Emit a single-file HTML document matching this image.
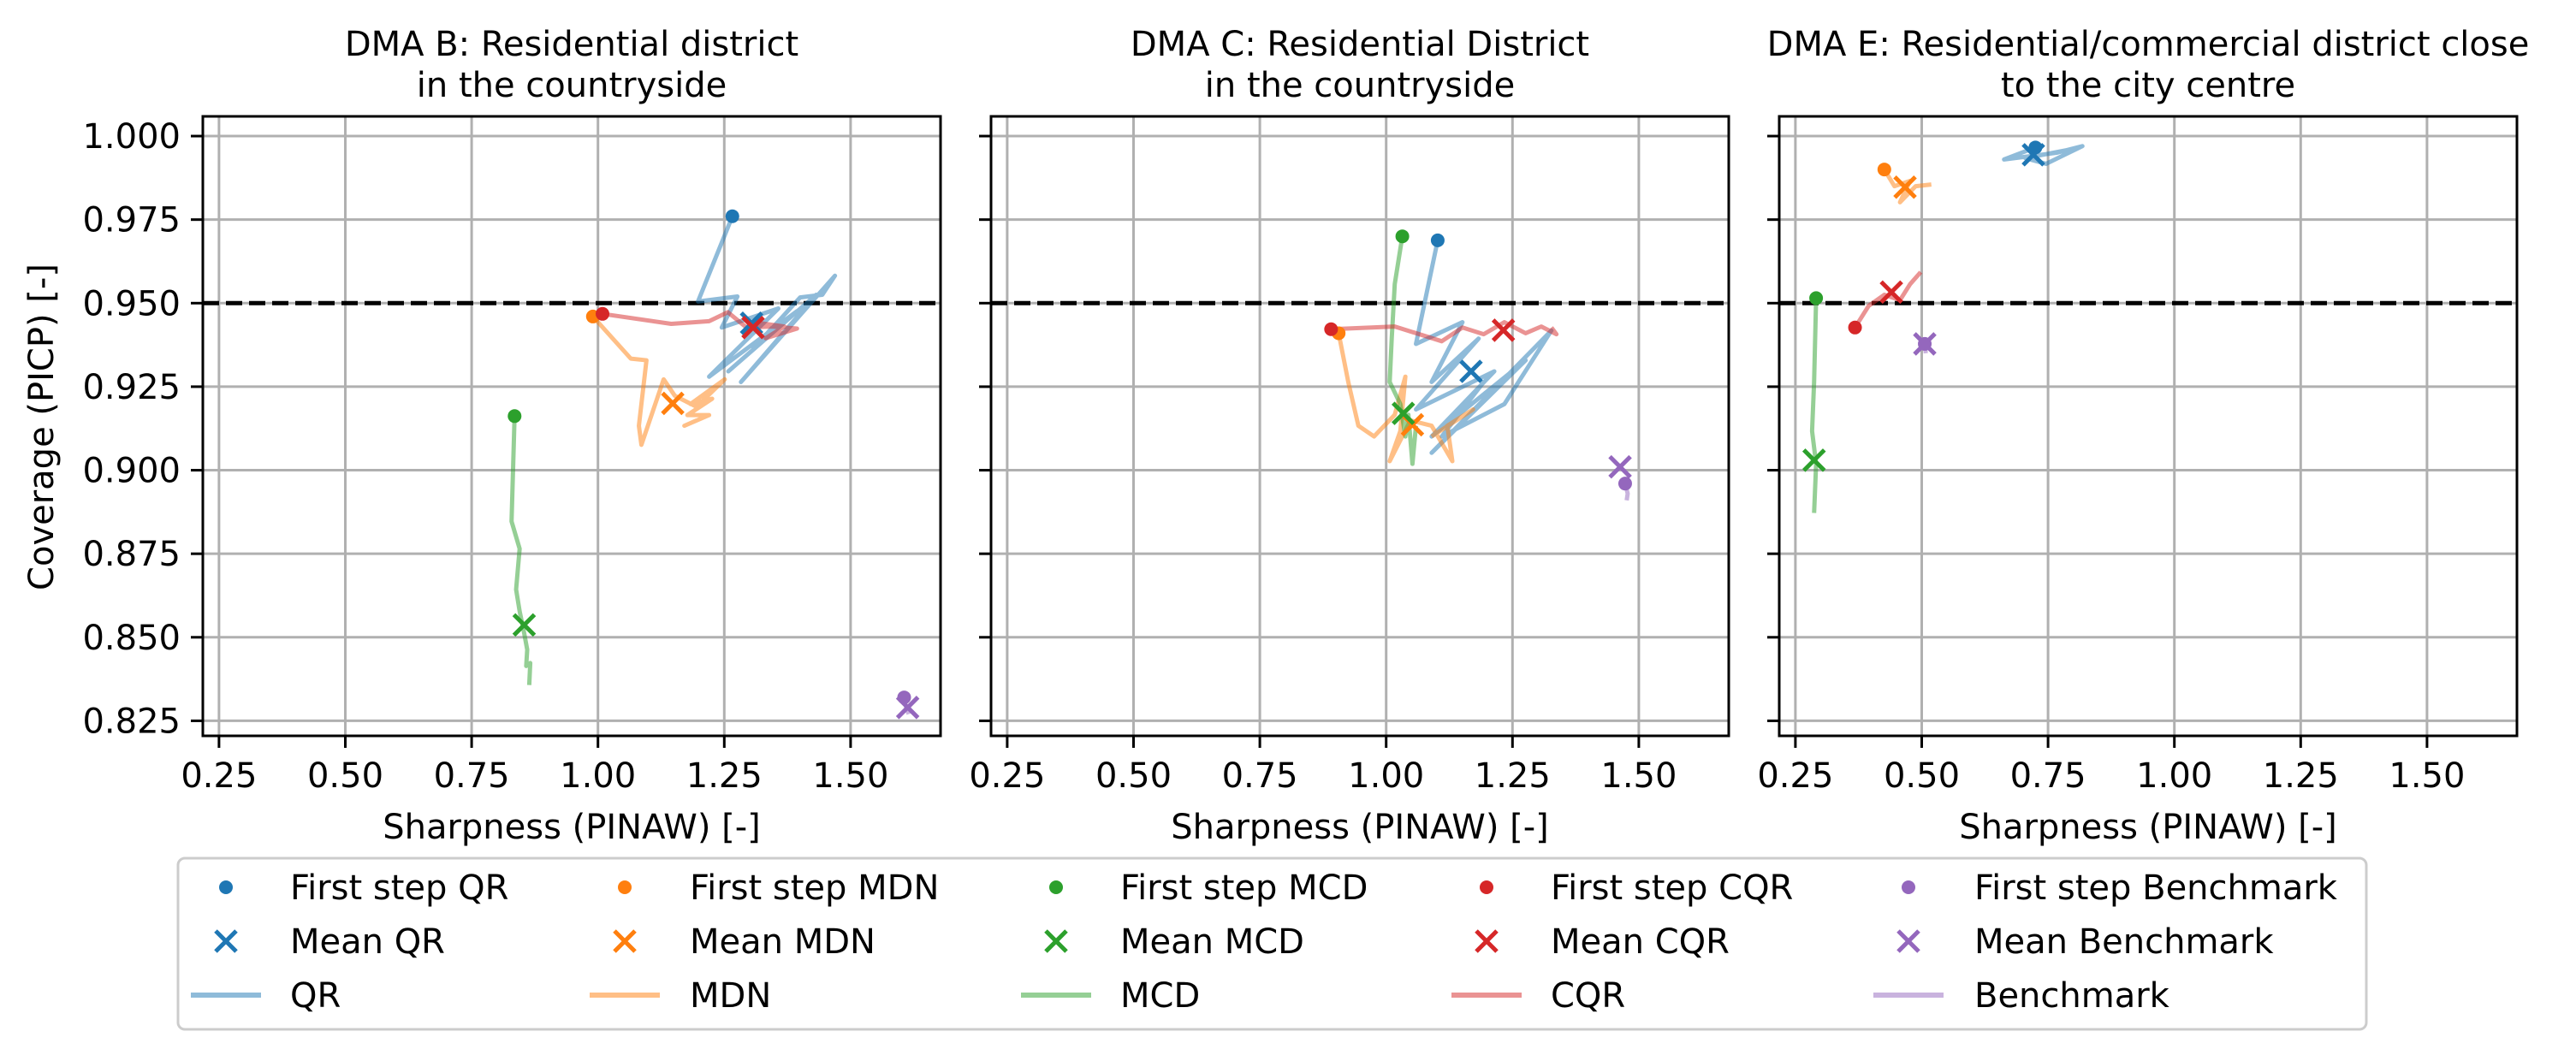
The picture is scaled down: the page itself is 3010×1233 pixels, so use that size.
<!DOCTYPE html>
<html><head><meta charset="utf-8"><style>
html,body{margin:0;padding:0;background:#fff}
svg{display:block}
text{font-family:"DejaVu Sans","Liberation Sans",sans-serif;fill:#000}
</style></head><body>
<svg id="fig" width="3010" height="1233" viewBox="0 0 3010 1233" xmlns="http://www.w3.org/2000/svg"></svg>
<script>
const panelTitles = [["DMA B: Residential district","in the countryside"],["DMA C: Residential District","in the countryside"],["DMA E: Residential/commercial district close","to the city centre"]];
const xTicks = [0.25,0.5,0.75,1.0,1.25,1.5];
const xTickLabels = ["0.25","0.50","0.75","1.00","1.25","1.50"];
const yTicks = [0.825,0.85,0.875,0.9,0.925,0.95,0.975,1.0];
const yTickLabels = ["0.825","0.850","0.875","0.900","0.925","0.950","0.975","1.000"];
const methods = ["QR","MDN","MCD","CQR","Benchmark"];
const target = 0.95;
// per panel, per method: path [x,y] pairs (x = PINAW, y = PICP)
const pathsB = [
 [[1.266,0.976],[1.198,0.9505],[1.276,0.952],[1.245,0.9427],[1.357,0.9484],[1.22,0.928],[1.394,0.9476],[1.258,0.9296],[1.432,0.9525],[1.283,0.9264],[1.469,0.9582],[1.444,0.9525],[1.4,0.9517],[1.307,0.9362],[1.345,0.9427]],
 [[0.99,0.946],[1.065,0.9334],[1.096,0.9329],[1.081,0.9133],[1.086,0.9076],[1.13,0.9272],[1.152,0.9223],[1.195,0.919],[1.251,0.9272],[1.183,0.9198],[1.226,0.9214],[1.177,0.9165],[1.22,0.9165],[1.171,0.9133],[1.195,0.9149]],
 [[0.835,0.9162],[0.829,0.8847],[0.845,0.8765],[0.838,0.8643],[0.845,0.8578],[0.854,0.8512],[0.86,0.8463],[0.858,0.8414],[0.866,0.8423],[0.864,0.8357]],
 [[1.009,0.9468],[1.145,0.9438],[1.22,0.9446],[1.257,0.9473],[1.294,0.9427],[1.344,0.943],[1.394,0.9424],[1.332,0.9395],[1.369,0.943],[1.307,0.9443]],
 [[1.606,0.832],[1.61,0.829],[1.615,0.827]]
];
const pathsC = [
 [[1.102,0.9688],[1.059,0.9378],[1.151,0.9443],[1.09,0.9264],[1.183,0.9394],[1.059,0.9182],[1.214,0.9296],[1.09,0.9101],[1.276,0.9329],[1.09,0.9052],[1.327,0.9418],[1.234,0.9198],[1.11,0.9101],[1.193,0.9264]],
 [[0.906,0.941],[0.925,0.9264],[0.945,0.9133],[0.976,0.9101],[1.017,0.9166],[1.038,0.928],[1.028,0.9117],[1.007,0.9027],[1.048,0.9149],[1.09,0.9133],[1.131,0.9027],[1.121,0.9133],[1.172,0.9182],[1.09,0.9101]],
 [[1.032,0.97],[1.017,0.9557],[1.011,0.9394],[1.007,0.9264],[1.028,0.9198],[1.038,0.9101],[1.044,0.9166],[1.052,0.9019],[1.059,0.9133]],
 [[0.891,0.9422],[1.017,0.943],[1.11,0.9386],[1.151,0.9427],[1.193,0.9407],[1.234,0.9443],[1.276,0.941],[1.307,0.943],[1.337,0.9407],[1.327,0.9427]],
 [[1.473,0.896],[1.478,0.893],[1.476,0.891]]
];
const pathsE = [
 [[0.725,0.9966],[0.663,0.993],[0.767,0.995],[0.818,0.997],[0.746,0.9917],[0.705,0.9934],[0.808,0.9964]],
 [[0.426,0.99],[0.446,0.985],[0.477,0.9866],[0.457,0.9802],[0.488,0.985],[0.519,0.9855]],
 [[0.291,0.9515],[0.287,0.9264],[0.283,0.9117],[0.291,0.9019],[0.287,0.8872]],
 [[0.368,0.9427],[0.395,0.9492],[0.426,0.9525],[0.457,0.9509],[0.477,0.9557],[0.498,0.9593]],
 [[0.506,0.9378],[0.508,0.935]]
];
const meansB = [[1.304,0.944],[1.148,0.92],[0.854,0.8537],[1.307,0.9427],[1.613,0.829]];
const meansC = [[1.168,0.9296],[1.052,0.9136],[1.034,0.917],[1.232,0.9419],[1.463,0.901]];
const meansE = [[0.721,0.9944],[0.467,0.9847],[0.287,0.903],[0.44,0.9533],[0.506,0.9378]];
const allPaths = [pathsB,pathsC,pathsE];
const allMeans = [meansB,meansC,meansE];

const colors = ["#1f77b4","#ff7f0e","#2ca02c","#d62728","#9467bd"];
const NS="http://www.w3.org/2000/svg";
const svg=document.getElementById('fig');
function mk(tag,attrs,parent){const e=document.createElementNS(NS,tag);for(const k in attrs)e.setAttribute(k,attrs[k]);(parent||svg).appendChild(e);return e;}
const panelLeft=[237,1158,2079], PW=862, PT=136, PH=724;
const XMIN=0.218,XMAX=1.678,YMIN=0.8205,YMAX=1.0059;
function xScale(p,v){return panelLeft[p]+(v-XMIN)/(XMAX-XMIN)*PW;}
function yScale(v){return PT+(YMAX-v)/(YMAX-YMIN)*PH;}
function xMarker(g,cx,cy,s,col){
  const p=mk('path',{d:`M${cx-s} ${cy-s}L${cx+s} ${cy+s}M${cx-s} ${cy+s}L${cx+s} ${cy-s}`,stroke:col,'stroke-width':5,fill:'none'},g);
  return p;
}
for(let p=0;p<3;p++){
  const g=mk('g',{});
  
  
  const L=panelLeft[p];
  const clip=mk('clipPath',{id:'c'+p},g);mk('rect',{x:L,y:PT,width:PW,height:PH},clip);
  // grid
  xTicks.forEach((t,i)=>{const x=xScale(p,t);
    const gl=mk('line',{x1:x,x2:x,y1:PT,y2:PT+PH,stroke:'#b0b0b0','stroke-width':3},g);
    
    mk('line',{x1:x,x2:x,y1:PT+PH,y2:PT+PH+14,stroke:'#000','stroke-width':3},g);
    const tx=mk('text',{x:x,y:PT+PH+60,'text-anchor':'middle','font-size':40},g);tx.textContent=xTickLabels[i];
    
  });
  yTicks.forEach((t,i)=>{const y=yScale(t);
    const gl=mk('line',{x1:L,x2:L+PW,y1:y,y2:y,stroke:'#b0b0b0','stroke-width':3},g);
    
    mk('line',{x1:L-14,x2:L,y1:y,y2:y,stroke:'#000','stroke-width':3},g);
    if(p===0){const ty=mk('text',{x:L-26,y:y+14,'text-anchor':'end','font-size':40},g);ty.textContent=yTickLabels[i];
      }
  });
  const dg=mk('g',{'clip-path':`url(#c${p})`},g);
  const tl=mk('line',{x1:L,x2:L+PW,y1:yScale(target),y2:yScale(target),stroke:'#000','stroke-width':5,'stroke-dasharray':'19 8'},dg);
  
  for(let m=0;m<5;m++){
    const pts=allPaths[p][m];
    const pl=mk('polyline',{points:pts.map(q=>xScale(p,q[0])+','+yScale(q[1])).join(' '),fill:'none',stroke:colors[m],'stroke-opacity':0.5,'stroke-width':5,'stroke-linejoin':'round'},dg);
    
  }
  for(let m=0;m<5;m++){
    const f=allPaths[p][m][0];
    const c=mk('circle',{cx:xScale(p,f[0]),cy:yScale(f[1]),r:8,fill:colors[m]},dg);
    
  }
  for(let m=0;m<5;m++){
    const mm=allMeans[p][m];
    const xm=xMarker(dg,xScale(p,mm[0]),yScale(mm[1]),12,colors[m]);
    
  }
  const fr=mk('rect',{x:L,y:PT,width:PW,height:PH,fill:'none',stroke:'#000','stroke-width':3},g);
  
  const cx=L+PW/2;
  panelTitles[p].forEach((s,i)=>{const t=mk('text',{x:cx,y:65+i*48,'text-anchor':'middle','font-size':40},g);t.textContent=s;
    });
  const xl=mk('text',{x:cx,y:980,'text-anchor':'middle','font-size':40},g);xl.textContent='Sharpness (PINAW) [-]';
  
}
const yl=mk('text',{x:0,y:0,'text-anchor':'middle','font-size':40,transform:'translate(62,499) rotate(-90)'});
yl.textContent='Coverage (PICP) [-]';


// legend
const lg=mk('g',{});


mk('rect',{x:208,y:1003,width:2557,height:200,rx:8,fill:'#fff',stroke:'#cccccc','stroke-width':3},lg);
const colM=[264,730,1234,1737,2230], colT=[339,806,1309,1812,2307], rows=[1037,1100,1163];
for(let m=0;m<5;m++){
  const c=mk('circle',{cx:colM[m],cy:rows[0],r:8,fill:colors[m]},lg);
  
  const x=xMarker(lg,colM[m],rows[1],12,colors[m]);
  
  const l=mk('line',{x1:colM[m]-41,x2:colM[m]+41,y1:rows[2],y2:rows[2],stroke:colors[m],'stroke-opacity':0.5,'stroke-width':6},lg);
  
  const labs=['First step '+methods[m],'Mean '+methods[m],methods[m]];
  labs.forEach((s,i)=>{const t=mk('text',{x:colT[m],y:rows[i]+14,'font-size':40},lg);t.textContent=s;
    });
}
</script>
</body></html>
